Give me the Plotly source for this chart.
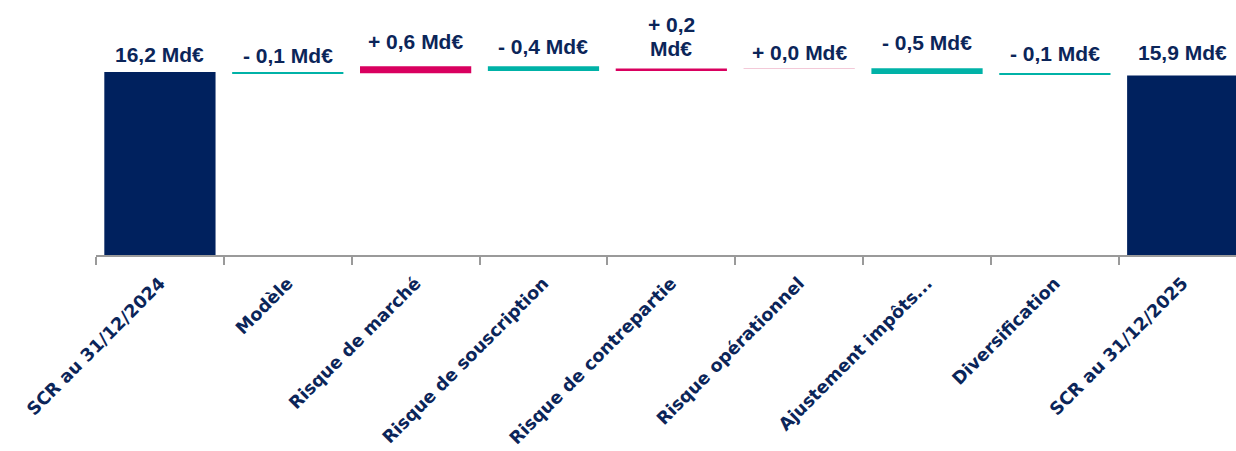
import numpy as np
import plotly.graph_objects as go

# ---- data ----
categories = ["SCR au 31/12/2024", "Modèle", "Risque de marché", "Risque de souscription",
              "Risque de contrepartie", "Risque opérationnel", "Ajustement impôts...",
              "Diversification", "SCR au 31/12/2025"]
scr_start = 16.2
variations = [-0.1, 0.6, -0.4, 0.2, 0.03, -0.5, -0.1]
scr_end = 15.9

# ---- styling ----
NAVY = "#00215E"
PINK = "#D9005F"
TEAL = "#00B2A7"
PALE_PINK = "#F3C9D8"
TEXT = "#0B2559"
label_gap_px = [11, 10.5, 18, 13, 14, 9, 19, 14, 16]   # gap between label baseline and bar top
wrap_labels = {4}
line_pitch = 23.5

def fmt_total(v):
    return f"{v:.1f}".replace(".", ",") + " Md€"

def fmt_delta(v):
    sign = "+" if v >= 0 else "-"
    return f"{sign} {abs(v):.1f}".replace(".", ",") + " Md€"

values = [scr_start] + variations + [scr_end]
bases = [0.0]
running = scr_start
for v in variations:
    bases.append(running)
    running += v
bases.append(0.0)
values = np.array(values)
bases = np.array(bases)

colors = []
labels = []
for i, v in enumerate(values):
    if i == 0 or i == len(values) - 1:
        colors.append(NAVY)
        labels.append([fmt_total(v)])
    else:
        if abs(v) < 0.05:
            colors.append(PALE_PINK)
        else:
            colors.append(PINK if v > 0 else TEAL)
        t = fmt_delta(v)
        if i in wrap_labels:
            labels.append([t.replace(" Md€", ""), "Md€"])
        else:
            labels.append([t])

fig = go.Figure()
fig.add_trace(go.Bar(
    x=categories, y=values, base=bases,
    marker=dict(color=colors, line=dict(width=0)),
    hoverinfo="skip",
))

label_font = dict(family="Liberation Sans, Arial, sans-serif", size=21, color=TEXT, weight="bold")
tops = np.maximum(bases, bases + values)
for i, (c, top, lines) in enumerate(zip(categories, tops, labels)):
    n = len(lines)
    for k, line in enumerate(lines):
        fig.add_annotation(
            x=c, y=top, xref="x", yref="y", text=line, showarrow=False,
            yanchor="bottom", yshift=label_gap_px[i] - 7 + (n - 1 - k) * line_pitch,
            font=label_font,
        )

px_per_unit = 11.296
plot_h = 255
fig.update_layout(
    width=1236, height=451,
    margin=dict(l=96, r=0, t=0, b=451 - plot_h, autoexpand=False),
    paper_bgcolor="white", plot_bgcolor="white",
    showlegend=False, bargap=0.13,
    xaxis=dict(
        type="category", range=[-0.5, -0.5 + 1140 / 127.85], automargin=False,
        tickson="boundaries", ticks="outside", ticklen=8, tickwidth=2, tickcolor="#9A9A9A",
        showline=True, linecolor="#9A9A9A", linewidth=2,
        showgrid=False, zeroline=False, tickangle=-45, ticklabelstandoff=9,
        tickfont=dict(family="DejaVu Sans, sans-serif", size=17.6, color=TEXT, weight="bold"),
    ),
    yaxis=dict(range=[0, plot_h / px_per_unit], visible=False, showgrid=False, zeroline=False,
               automargin=False),
)

fig.write_html("out.html")
